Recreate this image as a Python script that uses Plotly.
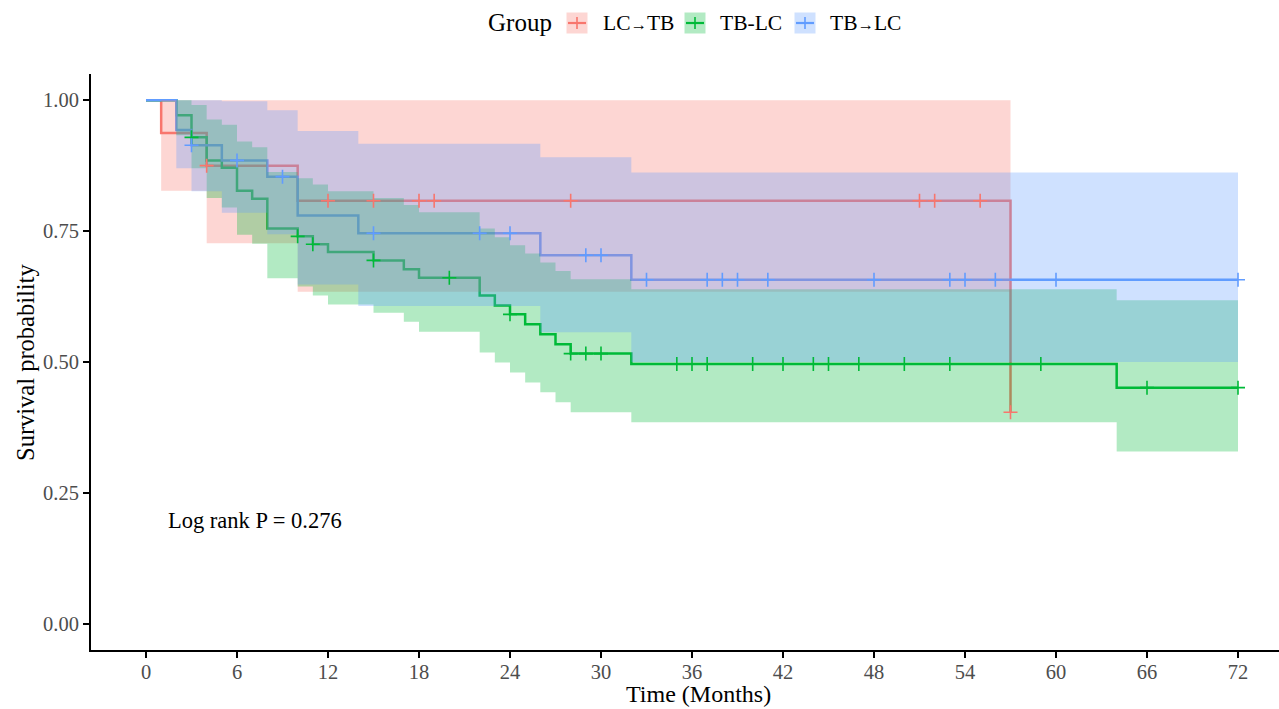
import plotly.graph_objects as go

# ---------------- data ----------------
group_names = ["LC<span style='font-size:16.5px'>→</span>TB", "TB-LC", "TB<span style='font-size:16.5px'>→</span>LC"]
group_colors = ["#F8766D", "#00BA38", "#619CFF"]
group_fills = ["rgba(248,118,109,0.3)", "rgba(0,186,56,0.3)", "rgba(97,156,255,0.3)"]

# LC→TB
red_time = [0, 1, 4, 10, 57]
red_surv = [1.0, 0.9375, 0.875, 0.808, 0.404]
red_upper = [1.0, 1.0, 1.0, 1.0, 1.0]
red_lower = [1.0, 0.827, 0.727, 0.634, 0.634]
red_end = 57
red_censor = [4, 12, 15, 18, 19, 28, 51, 52, 55, 57]

# TB-LC
green_time = [0, 2, 3, 4, 5, 6, 7, 8, 10, 11, 12, 15, 17, 18, 22, 23, 24, 25, 26, 27, 28, 32, 64]
green_surv = [1.0, 0.971, 0.929, 0.885, 0.871, 0.827, 0.812, 0.755, 0.740, 0.725, 0.710, 0.694,
              0.677, 0.661, 0.627, 0.608, 0.591, 0.572, 0.553, 0.534, 0.516, 0.496, 0.451]
green_upper = [1.0, 1.0, 0.991, 0.963, 0.953, 0.921, 0.910, 0.863, 0.851, 0.839, 0.826, 0.813,
               0.800, 0.786, 0.755, 0.738, 0.723, 0.707, 0.690, 0.674, 0.658, 0.639, 0.618]
green_lower = [1.0, 0.933, 0.870, 0.813, 0.795, 0.743, 0.726, 0.660, 0.644, 0.627, 0.610, 0.594,
               0.577, 0.558, 0.518, 0.499, 0.480, 0.461, 0.442, 0.423, 0.404, 0.385, 0.329]
green_end = 72
green_censor = [3, 10, 11, 15, 20, 24, 28, 29, 30, 35, 36, 37, 40, 42, 44, 45, 47, 50, 53, 59, 66, 72]

# TB→LC
blue_time = [0, 2, 3, 5, 8, 10, 14, 26, 32]
blue_surv = [1.0, 0.943, 0.914, 0.885, 0.854, 0.780, 0.746, 0.704, 0.657]
blue_upper = [1.0, 1.0, 1.0, 0.998, 0.981, 0.941, 0.917, 0.891, 0.862]
blue_lower = [1.0, 0.870, 0.826, 0.785, 0.744, 0.648, 0.607, 0.557, 0.500]
blue_end = 72
blue_censor = [3, 6, 9, 15, 22, 24, 29, 30, 33, 37, 38, 39, 41, 48, 53, 54, 56, 60, 72]

x_ticks = [0, 6, 12, 18, 24, 30, 36, 42, 48, 54, 60, 66, 72]
x_ticklabels = ["0", "6", "12", "18", "24", "30", "36", "42", "48", "54", "60", "66", "72"]
y_ticks = [0.0, 0.25, 0.5, 0.75, 1.0]
y_ticklabels = ["0.00", "0.25", "0.50", "0.75", "1.00"]
pval_text = "Log rank P = 0.276"

series = [
    (red_time, red_surv, red_upper, red_lower, red_end, red_censor),
    (green_time, green_surv, green_upper, green_lower, green_end, green_censor),
    (blue_time, blue_surv, blue_upper, blue_lower, blue_end, blue_censor),
]

FONT = "Liberation Serif"
W, H = 1279, 709
ML, MR, MT, MB = 91, 0, 74, 59


def step_value(times, vals, t):
    v = vals[0]
    for ti, vi in zip(times, vals):
        if ti <= t:
            v = vi
    return v


def ribbon(times, up, lo, end):
    xs, ys = [], []
    n = len(times)
    for i in range(n):
        t0 = times[i]
        t1 = times[i + 1] if i + 1 < n else end
        xs += [t0, t1]
        ys += [up[i], up[i]]
    for i in reversed(range(n)):
        t0 = times[i]
        t1 = times[i + 1] if i + 1 < n else end
        xs += [t1, t0]
        ys += [lo[i], lo[i]]
    return xs, ys


fig = go.Figure()

# survival step lines (drawn first, ribbons overlay them as in survminer)
for (t, s, u, l, end, cens), col in zip(series, group_colors):
    fig.add_trace(go.Scatter(
        x=list(t) + [end], y=list(s) + [s[-1]], mode="lines",
        line=dict(color=col, width=2.5, shape="hv"),
        showlegend=False, hoverinfo="skip"))

# confidence ribbons
for (t, s, u, l, end, cens), fc in zip(series, group_fills):
    xs, ys = ribbon(t, u, l, end)
    fig.add_trace(go.Scatter(
        x=xs, y=ys, mode="lines", fill="toself", fillcolor=fc,
        line=dict(width=0, color=fc), showlegend=False, hoverinfo="skip"))

# censor marks
for (t, s, u, l, end, cens), col in zip(series, group_colors):
    fig.add_trace(go.Scatter(
        x=cens, y=[step_value(t, s, c) for c in cens], mode="markers",
        marker=dict(symbol="cross-thin-open", size=10, color=col, line=dict(color=col, width=1.6)),
        showlegend=False, hoverinfo="skip"))

# axis geometry
px0, px72 = 146, 1238
ppu = (px72 - px0) / 72.0
x_lo = -(px0 - ML) / ppu
x_hi = x_lo + (W - ML - MR) / ppu


def xp(px):
    return (px - ML) / (W - ML - MR)


def yp(py):
    return (H - MB - py) / (H - MT - MB)


annotations = []
shapes = []

# p-value
annotations.append(dict(x=(166 - px0) / ppu, y=1 - (521 - 100) / 524.0, xref="x", yref="y",
                        text=pval_text, showarrow=False, xanchor="left", yanchor="middle",
                        font=dict(family=FONT, size=22.5, color="black")))

# axis titles
annotations.append(dict(x=xp(698), y=yp(694), xref="paper", yref="paper", text="Time (Months)",
                        showarrow=False, xanchor="center", yanchor="middle",
                        font=dict(family=FONT, size=24, color="black")))
annotations.append(dict(x=xp(25), y=yp(363), xref="paper", yref="paper", text="Survival probability",
                        showarrow=False, xanchor="center", yanchor="middle", textangle=-90,
                        font=dict(family=FONT, size=24.5, color="black")))

# manual legend
leg_cy = 23
annotations.append(dict(x=xp(486), y=yp(leg_cy), xref="paper", yref="paper", text="Group",
                        showarrow=False, xanchor="left", yanchor="middle",
                        font=dict(family=FONT, size=25, color="black")))
box_left = [566.5, 684.5, 794.5]
text_left = [601, 718, 828]
for name, col, fc, bl, tl in zip(group_names, group_colors, group_fills, box_left, text_left):
    shapes.append(dict(type="rect", xref="paper", yref="paper", x0=xp(bl), x1=xp(bl + 21),
                       y0=yp(leg_cy - 10.5), y1=yp(leg_cy + 10.5), fillcolor=fc, line=dict(width=0)))
    shapes.append(dict(type="line", xref="paper", yref="paper", x0=xp(bl + 1.5), x1=xp(bl + 19.5),
                       y0=yp(leg_cy), y1=yp(leg_cy), line=dict(color=col, width=2.2)))
    shapes.append(dict(type="line", xref="paper", yref="paper", x0=xp(bl + 10.5), x1=xp(bl + 10.5),
                       y0=yp(leg_cy - 6), y1=yp(leg_cy + 6), line=dict(color=col, width=1.6)))
    annotations.append(dict(x=xp(tl), y=yp(leg_cy), xref="paper", yref="paper", text=name,
                            showarrow=False, xanchor="left", yanchor="middle",
                            font=dict(family=FONT, size=21.5, color="black")))

fig.update_layout(
    width=W, height=H, autosize=False,
    margin=dict(l=ML, r=MR, t=MT, b=MB),
    paper_bgcolor="white", plot_bgcolor="white",
    showlegend=False,
    font=dict(family=FONT, color="black"),
    annotations=annotations, shapes=shapes,
    xaxis=dict(range=[x_lo, x_hi], tickmode="array", tickvals=x_ticks, ticktext=x_ticklabels,
               showgrid=False, zeroline=False, showline=True, linecolor="black", linewidth=2,
               ticks="outside", ticklen=6, tickwidth=2, tickcolor="black", ticklabelstandoff=-4,
               tickfont=dict(family=FONT, size=20.5, color="#4D4D4D")),
    yaxis=dict(range=[-0.05, 1.05], tickmode="array", tickvals=y_ticks, ticktext=y_ticklabels,
               showgrid=False, zeroline=False, showline=True, linecolor="black", linewidth=2,
               ticks="outside", ticklen=6, tickwidth=2, tickcolor="black",
               tickfont=dict(family=FONT, size=20.5, color="#4D4D4D")),
)

fig.write_html("out.html", config={"displayModeBar": False},
               post_script="document.body.style.margin='0px';")
